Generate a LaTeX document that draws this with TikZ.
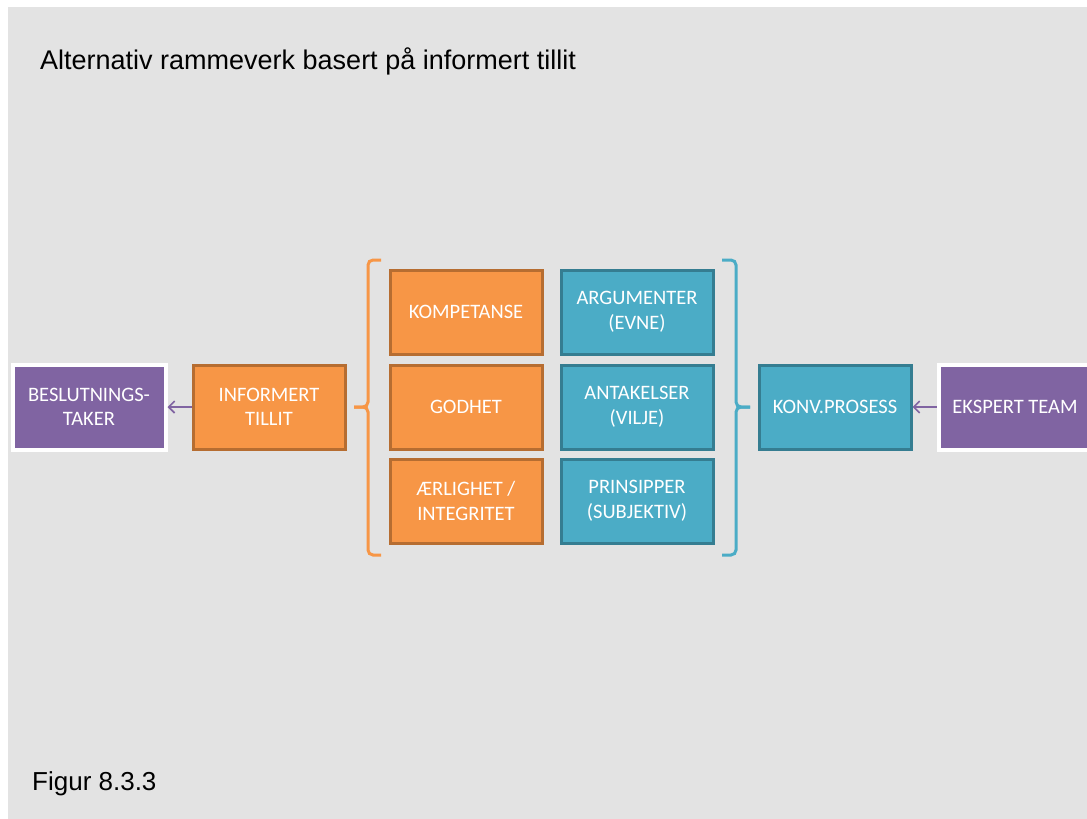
\documentclass[tikz,border=0pt]{standalone}
\usepackage{fontspec}
\setmainfont{Liberation Sans}
\newfontfamily\boxfont{Carlito}
\usetikzlibrary{arrows.meta,shadows}

\definecolor{slidegray}{HTML}{E3E3E3}
\definecolor{orangefill}{HTML}{F79646}
\definecolor{orangeedge}{HTML}{B66D31}
\definecolor{bluefill}{HTML}{4BACC6}
\definecolor{blueedge}{HTML}{357D91}
\definecolor{purplefill}{HTML}{8064A2}

\tikzset{
  cell/.style={minimum width=152pt, minimum height=84pt, line width=3pt,
    text=white, align=center, font=\boxfont\fontsize{20.5}{24.5}\selectfont, inner sep=0pt},
  orangecell/.style={cell, fill=orangefill, draw=orangeedge},
  bluecell/.style={cell, fill=bluefill, draw=blueedge},
  purplecell/.style={cell, minimum width=153pt, minimum height=85pt, fill=purplefill,
    draw=white, line width=4pt,
    drop shadow={shadow xshift=1.5pt, shadow yshift=-2pt, opacity=0.22, fill=black}},
  flow/.style={draw=purplefill, line width=2pt, -{Straight Barb[length=6pt,width=12pt,line width=1.6pt]}},
  brace/.style={line width=3pt, rounded corners=5pt},
  heading/.style={anchor=base west, inner sep=0pt}
}

\begin{document}
\begin{tikzpicture}[x=1pt,y=-1pt]
  % page and slide area
  \fill[white] (0,0) rectangle (1087,819);
  \clip (0,0) rectangle (1087,819);
  \fill[slidegray] (8,7) rectangle (1087,819);
  \useasboundingbox (0,0) rectangle (1087,819);

  % headings
  \node[heading, font=\fontsize{27}{32}\selectfont] (title) at (40,69)
    {Alternativ rammeverk basert på informert tillit};
  \node[heading, font=\fontsize{26}{31}\selectfont] (fig) at (32,790) {Figur 8.3.3};

  % outer boxes
  \node[purplecell] (beslut) at (89,407) {BESLUTNINGS-\\TAKER};
  \node[orangecell] (tillit) at (269,407) {INFORMERT\\TILLIT};
  \node[bluecell] (konv) at (835,407) {KONV.PROSESS};
  \node[purplecell] (ekspert) at (1015,407) {EKSPERT TEAM};

  % orange column
  \node[orangecell] (komp) at (466,312) {KOMPETANSE};
  \node[orangecell] (godhet) at (466,407) {GODHET};
  \node[orangecell] (aerlig) at (466,501) {ÆRLIGHET /\\INTEGRITET};

  % blue column
  \node[bluecell] (arg) at (637,312) {ARGUMENTER\\(EVNE)};
  \node[bluecell] (antak) at (637,407) {ANTAKELSER\\(VILJE)};
  \node[bluecell] (prins) at (637,501) {PRINSIPPER\\(SUBJEKTIV)};

  % brackets grouping the two columns
  \coordinate (lbtip) at (354,407);
  \coordinate (rbtip) at (750,407);
  \draw[brace, draw=orangefill] (381,260) -- (368,260) -- (368,407) -- (lbtip);
  \draw[brace, draw=orangefill] (381,555) -- (368,555) -- (368,407) -- (lbtip);
  \draw[brace, draw=bluefill] (722,260) -- (736,260) -- (736,407) -- (rbtip);
  \draw[brace, draw=bluefill] (722,555) -- (736,555) -- (736,407) -- (rbtip);

  % arrows
  \draw[flow] (tillit.west) -- (beslut.east);
  \draw[flow] (ekspert.west) -- (konv.east);
\end{tikzpicture}
\end{document}
